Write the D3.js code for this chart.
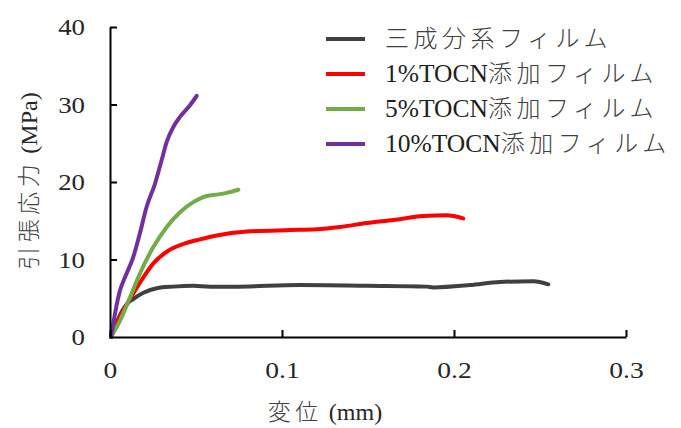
<!DOCTYPE html>
<html>
<head>
<meta charset="utf-8">
<script src="https://cdn.jsdelivr.net/npm/d3@7"></script>
<style>
  html, body { margin: 0; padding: 0; background: #fff; }
  svg { display: block; }
  .latin { font-family: "Liberation Serif", serif; }
  .cjk { font-family: "Noto Sans CJK JP", sans-serif; font-weight: 300; letter-spacing: 4.5px; }
</style>
</head>
<body>
<svg id="chart" width="681" height="428"></svg>
<script>
// Tensile stress–displacement curves for the film series
const seriesNames = ["三成分系フィルム", "1%TOCN添加フィルム", "5%TOCN添加フィルム", "10%TOCN添加フィルム"];
const seriesColors = ["#404040", "#ff0000", "#70ad47", "#7030a0"];

const dispBase = [0.0006, 0.003, 0.0077, 0.0105, 0.0135, 0.0194, 0.0272, 0.0368, 0.0484, 0.0581, 0.0717, 0.1105, 0.15, 0.1841, 0.188, 0.2093, 0.2267, 0.2461, 0.2548];
const stressBase = [0, 1.4, 3.6, 4.4, 4.9, 5.7, 6.3, 6.5, 6.6, 6.5, 6.5, 6.7, 6.6, 6.5, 6.4, 6.7, 7.1, 7.2, 6.8];

const disp1 = [0.0006, 0.0029, 0.0077, 0.0135, 0.0194, 0.0252, 0.033, 0.0426, 0.0523, 0.062, 0.0795, 0.1047, 0.12, 0.1337, 0.1492, 0.1647, 0.182, 0.1958, 0.2054];
const stress1 = [0, 1.3, 3.4, 5.6, 7.7, 9.5, 11.0, 12.0, 12.6, 13.1, 13.6, 13.8, 13.9, 14.2, 14.7, 15.1, 15.6, 15.7, 15.3];

const disp5 = [0.0006, 0.0058, 0.0116, 0.0174, 0.0252, 0.033, 0.0407, 0.0484, 0.0562, 0.063, 0.0679, 0.0746];
const stress5 = [0, 2.1, 5.1, 8.2, 11.6, 14.2, 16.1, 17.4, 18.2, 18.4, 18.6, 19.0];

const disp10 = [0.0006, 0.0016, 0.0029, 0.0058, 0.0087, 0.0135, 0.0174, 0.0213, 0.0262, 0.030, 0.033, 0.0368, 0.0407, 0.0465, 0.0504];
const stress10 = [0, 1.3, 3.0, 6.0, 7.7, 10.3, 13.4, 16.8, 19.8, 22.8, 25.2, 27.1, 28.4, 29.9, 31.1];

const xTicks = [0, 0.1, 0.2, 0.3];
const yTicks = [0, 10, 20, 30, 40];
const xTitle = "変位 (mm)";
const yTitle = "引張応力 (MPa)";

const seriesX = [dispBase, disp1, disp5, disp10];
const seriesY = [stressBase, stress1, stress5, stress10];

const svg = d3.select("#chart");

const x = d3.scaleLinear().domain([0, 0.3]).range([110, 626]);
const y = d3.scaleLinear().domain([0, 40]).range([337, 27]);

// Split a label into its leading Latin run and the Japanese remainder,
// so each part is set in its own face.
function addMixedText(sel, label, latinSize, cjkSize) {
  const m = label.match(/^([0-9%A-Za-z]*)(.*)$/);
  const parts = [];
  // Latin prefix (e.g. "1%TOCN")
  if (m[1]) parts.push({ t: m[1], cls: "latin", size: latinSize, fill: "#1f1f1f" });
  // Remainder: CJK characters, with any parenthesised Latin in serif
  const rest = m[2];
  const re = /([^\x00-\x7f]+)|([\x00-\x7f]+)/g;
  let r;
  while ((r = re.exec(rest)) !== null) {
    if (r[1]) parts.push({ t: r[1], cls: "cjk", size: cjkSize, fill: "#404040" });
    else parts.push({ t: r[2], cls: "latin", size: latinSize, fill: "#262626" });
  }
  parts.forEach(p => {
    sel.append("tspan")
      .attr("class", p.cls)
      .style("font-size", p.size + "px")
      .attr("fill", p.fill)
      .text(p.t);
  });
}

// Curves
const line = d3.line()
  .x(d => x(d[0]))
  .y(d => y(d[1]))
  .curve(d3.curveMonotoneX);

seriesX.forEach((xs, i) => {
  const pts = xs.map((v, j) => [v, seriesY[i][j]]);
  svg.append("path")
    .datum(pts)
    .attr("fill", "none")
    .attr("stroke", seriesColors[i])
    .attr("stroke-width", 4)
    .attr("stroke-linecap", "round")
    .attr("stroke-linejoin", "round")
    .attr("d", line);
});

// Axes with inward ticks
const xAxis = svg.append("g")
  .attr("transform", `translate(0,${y(0)})`)
  .call(d3.axisBottom(x).tickValues(xTicks).tickFormat(d3.format("")).tickSizeInner(-7).tickSizeOuter(0).tickPadding(24));

const yAxis = svg.append("g")
  .attr("transform", `translate(${x(0)},0)`)
  .call(d3.axisLeft(y).tickValues(yTicks).tickFormat(d3.format("")).tickSizeInner(-7).tickSizeOuter(0).tickPadding(25));

[xAxis, yAxis].forEach(g => {
  g.select(".domain").attr("stroke", "#000").attr("stroke-width", 2);
  g.selectAll(".tick line").attr("stroke", "#000").attr("stroke-width", 2);
  g.selectAll(".tick text")
    .attr("fill", "#262626")
    .style("font-size", "24px")
    .style("font-family", "'Liberation Serif', serif");
});
yAxis.select(".tick:first-of-type line").remove();

// Tick labels are set slightly wide
xAxis.selectAll(".tick text").each(function () {
  const t = d3.select(this);
  const yy = +t.attr("y");
  t.attr("y", 0).attr("transform", `translate(0,${yy}) scale(1.15,1)`);
});
yAxis.selectAll(".tick text").each(function () {
  const t = d3.select(this);
  const xx = +t.attr("x");
  t.attr("x", 0).attr("transform", `translate(${xx},0) scale(1.12,1)`);
});

// Axis titles
const xt = svg.append("text")
  .attr("x", 325)
  .attr("y", 420)
  .attr("text-anchor", "middle");
addMixedText(xt, xTitle, 24, 23);

const yt = svg.append("text")
  .attr("transform", "translate(37,181) rotate(-90)")
  .attr("text-anchor", "middle");
addMixedText(yt, yTitle, 24, 23);

// Legend
const legend = svg.append("g");
seriesNames.forEach((name, i) => {
  const ly = 39 + i * 35;
  legend.append("line")
    .attr("x1", 326).attr("x2", 365)
    .attr("y1", ly).attr("y2", ly)
    .attr("stroke", seriesColors[i])
    .attr("stroke-width", 4);
  const t = legend.append("text")
    .attr("x", 385)
    .attr("y", ly + 8);
  addMixedText(t, name, 25.5, 24);
});
</script>
</body>
</html>
